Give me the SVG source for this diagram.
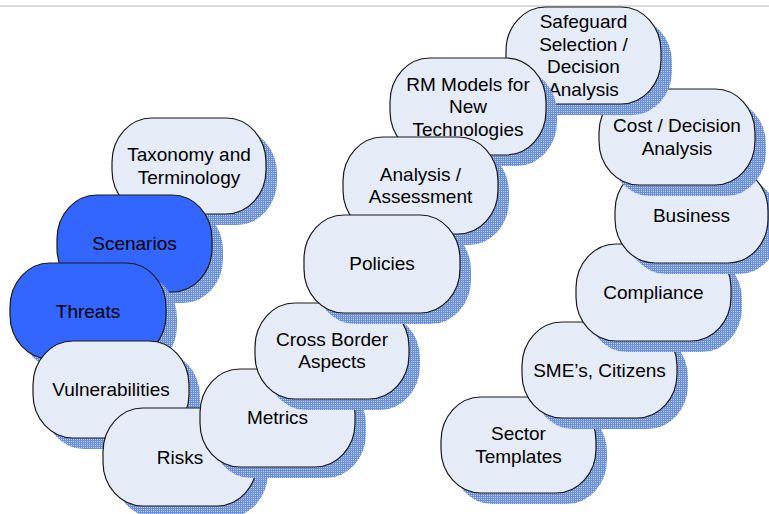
<svg xmlns="http://www.w3.org/2000/svg" width="769" height="514" viewBox="0 0 769 514">
<defs>
<pattern id="grid" patternUnits="userSpaceOnUse" x="0" y="0" width="2" height="2">
<rect width="2" height="2" fill="#bccdef"/>
<rect width="2" height="1" fill="#6a90d8"/>
<rect width="1" height="2" fill="#6a90d8"/>
</pattern>
<style>
.sh{fill:url(#grid);}
.bx{fill:#e5ebf7;stroke:#1a1a1a;stroke-width:1.2;}
.bl{fill:#3366ff;stroke:#1a1a1a;stroke-width:1.2;}
text{font-family:"Liberation Sans",Arial,sans-serif;font-size:19px;fill:#000;text-anchor:middle;}
</style>
</defs>
<rect width="769" height="514" fill="#ffffff"/>
<line x1="0" y1="6" x2="769" y2="6" stroke="#dcdcdc" stroke-width="2"/>
<g id="connectors"></g>

<g id="taxonomy">
<rect class="sh" x="123" y="129" width="154" height="96" rx="40" ry="44"/>
<rect class="bx" x="112" y="118" width="154" height="96" rx="40" ry="44"/>
<text x="189" y="161">Taxonomy and</text>
<text x="189" y="184">Terminology</text>
</g>
<g id="scenarios">
<rect class="sh" x="68" y="206" width="155" height="97" rx="40" ry="44"/>
<rect class="bl" x="57" y="195" width="155" height="97" rx="40" ry="44"/>
<text x="134.5" y="250">Scenarios</text>
</g>
<g id="threats">
<rect class="sh" x="21" y="274" width="156" height="96" rx="40" ry="44"/>
<rect class="bl" x="10" y="263" width="156" height="96" rx="40" ry="44"/>
<text x="88" y="317.5">Threats</text>
</g>
<g id="vulnerabilities">
<rect class="sh" x="44" y="352" width="156" height="97" rx="40" ry="44"/>
<rect class="bx" x="33" y="341" width="156" height="97" rx="40" ry="44"/>
<text x="111" y="396">Vulnerabilities</text>
</g>
<g id="risks">
<rect class="sh" x="114" y="419" width="154" height="98" rx="40" ry="44"/>
<rect class="bx" x="103" y="408" width="154" height="98" rx="40" ry="44"/>
<text x="180" y="463.5">Risks</text>
</g>
<g id="metrics">
<rect class="sh" x="211" y="380" width="155" height="98" rx="40" ry="44"/>
<rect class="bx" x="200" y="369" width="155" height="98" rx="40" ry="44"/>
<text x="277.5" y="424">Metrics</text>
</g>
<g id="crossborder">
<rect class="sh" x="266" y="314" width="154" height="96" rx="40" ry="44"/>
<rect class="bx" x="255" y="303" width="154" height="96" rx="40" ry="44"/>
<text x="332" y="345.5">Cross Border</text>
<text x="332" y="368">Aspects</text>
</g>
<g id="sector">
<rect class="sh" x="452" y="408" width="155" height="96" rx="40" ry="44"/>
<rect class="bx" x="441" y="397" width="155" height="96" rx="40" ry="44"/>
<text x="518.5" y="440">Sector</text>
<text x="518.5" y="462.5">Templates</text>
</g>
<g id="sme">
<rect class="sh" x="533" y="333" width="155" height="96" rx="40" ry="44"/>
<rect class="bx" x="522" y="322" width="155" height="96" rx="40" ry="44"/>
<text x="599.5" y="376.5">SME’s, Citizens</text>
</g>
<g id="compliance">
<rect class="sh" x="587" y="255" width="155" height="97" rx="40" ry="44"/>
<rect class="bx" x="576" y="244" width="155" height="97" rx="40" ry="44"/>
<text x="653.5" y="299">Compliance</text>
</g>
<g id="business">
<rect class="sh" x="626" y="178" width="153" height="96" rx="40" ry="44"/>
<rect class="bx" x="615" y="167" width="153" height="96" rx="40" ry="44"/>
<text x="691.5" y="221.5">Business</text>
</g>
<g id="cost">
<rect class="sh" x="610" y="100" width="156" height="96" rx="40" ry="44"/>
<rect class="bx" x="599" y="89" width="156" height="96" rx="40" ry="44"/>
<text x="677" y="132">Cost / Decision</text>
<text x="677" y="154.5">Analysis</text>
</g>
<g id="safeguard">
<rect class="sh" x="517" y="18" width="155" height="97" rx="40" ry="44"/>
<rect class="bx" x="506" y="7" width="155" height="97" rx="40" ry="44"/>
<text x="583.5" y="28">Safeguard</text>
<text x="583.5" y="50.5">Selection /</text>
<text x="583.5" y="73">Decision</text>
<text x="583.5" y="95.5">Analysis</text>
</g>
<g id="rmmodels">
<rect class="sh" x="401" y="69" width="156" height="97" rx="40" ry="44"/>
<rect class="bx" x="390" y="58" width="156" height="97" rx="40" ry="44"/>
<text x="468" y="90.5">RM Models for</text>
<text x="468" y="113">New</text>
<text x="468" y="135.5">Technologies</text>
</g>
<g id="analysis">
<rect class="sh" x="354" y="148" width="155" height="97" rx="40" ry="44"/>
<rect class="bx" x="343" y="137" width="155" height="97" rx="40" ry="44"/>
<text x="420.5" y="180.5">Analysis /</text>
<text x="420.5" y="203">Assessment</text>
</g>
<g id="policies">
<rect class="sh" x="315" y="226" width="156" height="98" rx="40" ry="44"/>
<rect class="bx" x="304" y="215" width="156" height="98" rx="40" ry="44"/>
<text x="382" y="270">Policies</text>
</g>
</svg>
